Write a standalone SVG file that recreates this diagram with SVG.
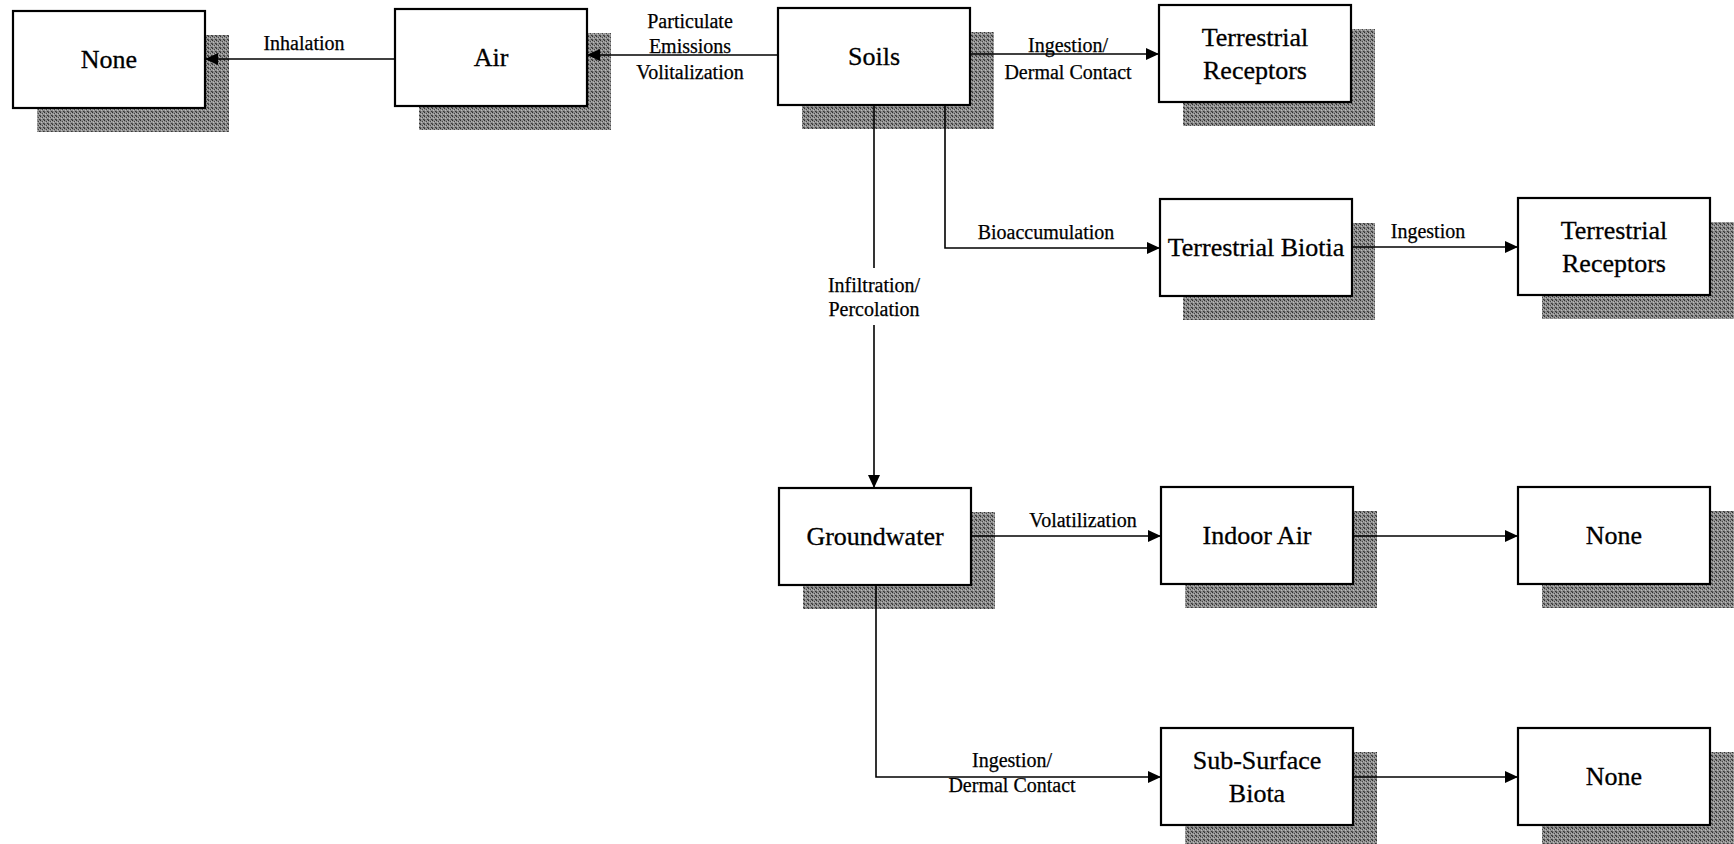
<svg xmlns="http://www.w3.org/2000/svg" width="1734" height="844" viewBox="0 0 1734 844">
<style>
  .box { fill: #ffffff; stroke: #000000; stroke-width: 2.2; }
  .shadow { fill: url(#dither); }
  .ntext { font-family: "Liberation Serif", "Times New Roman", serif; font-size: 26px; fill: #000; stroke: #000; stroke-width: 0.3; text-anchor: middle; }
  .ltext { font-family: "Liberation Serif", "Times New Roman", serif; font-size: 20px; fill: #000; stroke: #000; stroke-width: 0.25; text-anchor: middle; }
  .conn { fill: none; stroke: #000000; stroke-width: 1.6; }
</style>
<defs>
  <pattern id="dither" width="4" height="4" patternUnits="userSpaceOnUse">
    <rect width="4" height="4" fill="#8e8e8e"/>
    <rect x="0" y="0" width="1" height="1" fill="#2e2e2e"/>
    <rect x="2" y="1" width="1" height="1" fill="#474747"/>
    <rect x="1" y="2" width="1" height="1" fill="#bcbcbc"/>
    <rect x="3" y="3" width="1" height="1" fill="#383838"/>
    <rect x="3" y="1" width="1" height="1" fill="#b0b0b0"/>
    <rect x="0" y="3" width="1" height="1" fill="#5a5a5a"/>
  </pattern>
  <marker id="arrow" markerWidth="14" markerHeight="12" refX="13" refY="6" orient="auto" markerUnits="userSpaceOnUse">
    <path d="M0,0 L13,6 L0,12 Z" fill="#000"/>
  </marker>
</defs>
<rect width="1734" height="844" fill="#ffffff"/>

<g id="n-none1">
  <rect class="shadow" x="37" y="35" width="192" height="97"/>
  <rect class="box" x="13" y="11" width="192" height="97"/>
  <text class="ntext" x="109" y="68">None</text>
</g>
<g id="n-air">
  <rect class="shadow" x="419" y="33" width="192" height="97"/>
  <rect class="box" x="395" y="9" width="192" height="97"/>
  <text class="ntext" x="491" y="66">Air</text>
</g>
<g id="n-soils">
  <rect class="shadow" x="802" y="32" width="192" height="97"/>
  <rect class="box" x="778" y="8" width="192" height="97"/>
  <text class="ntext" x="874" y="65">Soils</text>
</g>
<g id="n-terr-rec1">
  <rect class="shadow" x="1183" y="29" width="192" height="97"/>
  <rect class="box" x="1159" y="5" width="192" height="97"/>
  <text class="ntext" x="1255" y="46">Terrestrial</text>
  <text class="ntext" x="1255" y="79">Receptors</text>
</g>
<g id="n-terr-biota">
  <rect class="shadow" x="1183" y="223" width="192" height="97"/>
  <rect class="box" x="1160" y="199" width="192" height="97"/>
  <text class="ntext" x="1256" y="256">Terrestrial Biotia</text>
</g>
<g id="n-terr-rec2">
  <rect class="shadow" x="1542" y="222" width="192" height="97"/>
  <rect class="box" x="1518" y="198" width="192" height="97"/>
  <text class="ntext" x="1614" y="239">Terrestrial</text>
  <text class="ntext" x="1614" y="272">Receptors</text>
</g>
<g id="n-groundwater">
  <rect class="shadow" x="803" y="512" width="192" height="97"/>
  <rect class="box" x="779" y="488" width="192" height="97"/>
  <text class="ntext" x="875" y="545">Groundwater</text>
</g>
<g id="n-indoor-air">
  <rect class="shadow" x="1185" y="511" width="192" height="97"/>
  <rect class="box" x="1161" y="487" width="192" height="97"/>
  <text class="ntext" x="1257" y="544">Indoor Air</text>
</g>
<g id="n-none2">
  <rect class="shadow" x="1542" y="511" width="192" height="97"/>
  <rect class="box" x="1518" y="487" width="192" height="97"/>
  <text class="ntext" x="1614" y="544">None</text>
</g>
<g id="n-subsurface">
  <rect class="shadow" x="1185" y="752" width="192" height="97"/>
  <rect class="box" x="1161" y="728" width="192" height="97"/>
  <text class="ntext" x="1257" y="769">Sub-Surface</text>
  <text class="ntext" x="1257" y="802">Biota</text>
</g>
<g id="n-none3">
  <rect class="shadow" x="1542" y="752" width="192" height="97"/>
  <rect class="box" x="1518" y="728" width="192" height="97"/>
  <text class="ntext" x="1614" y="785">None</text>
</g>

<g id="connectors">
  <path class="conn" d="M395,59 H205" marker-end="url(#arrow)"/>
  <path class="conn" d="M778,55 H587" marker-end="url(#arrow)"/>
  <path class="conn" d="M970,54 H1159" marker-end="url(#arrow)"/>
  <path class="conn" d="M945,105 V248 H1160" marker-end="url(#arrow)"/>
  <path class="conn" d="M874,105 V268"/>
  <path class="conn" d="M874,325 V488" marker-end="url(#arrow)"/>
  <path class="conn" d="M1352,247 H1518" marker-end="url(#arrow)"/>
  <path class="conn" d="M971,536 H1161" marker-end="url(#arrow)"/>
  <path class="conn" d="M1353,536 H1518" marker-end="url(#arrow)"/>
  <path class="conn" d="M876,585 V777 H1161" marker-end="url(#arrow)"/>
  <path class="conn" d="M1353,777 H1518" marker-end="url(#arrow)"/>

  <text class="ltext" x="304" y="50">Inhalation</text>
  <text class="ltext" x="690" y="28">Particulate</text>
  <text class="ltext" x="690" y="53">Emissions</text>
  <text class="ltext" x="690" y="79">Volitalization</text>
  <text class="ltext" x="1068" y="52">Ingestion/</text>
  <text class="ltext" x="1068" y="79">Dermal Contact</text>
  <text class="ltext" x="1046" y="239">Bioaccumulation</text>
  <text class="ltext" x="874" y="292">Infiltration/</text>
  <text class="ltext" x="874" y="316">Percolation</text>
  <text class="ltext" x="1428" y="238">Ingestion</text>
  <text class="ltext" x="1083" y="527">Volatilization</text>
  <text class="ltext" x="1012" y="767">Ingestion/</text>
  <text class="ltext" x="1012" y="792">Dermal Contact</text>
</g>
</svg>
